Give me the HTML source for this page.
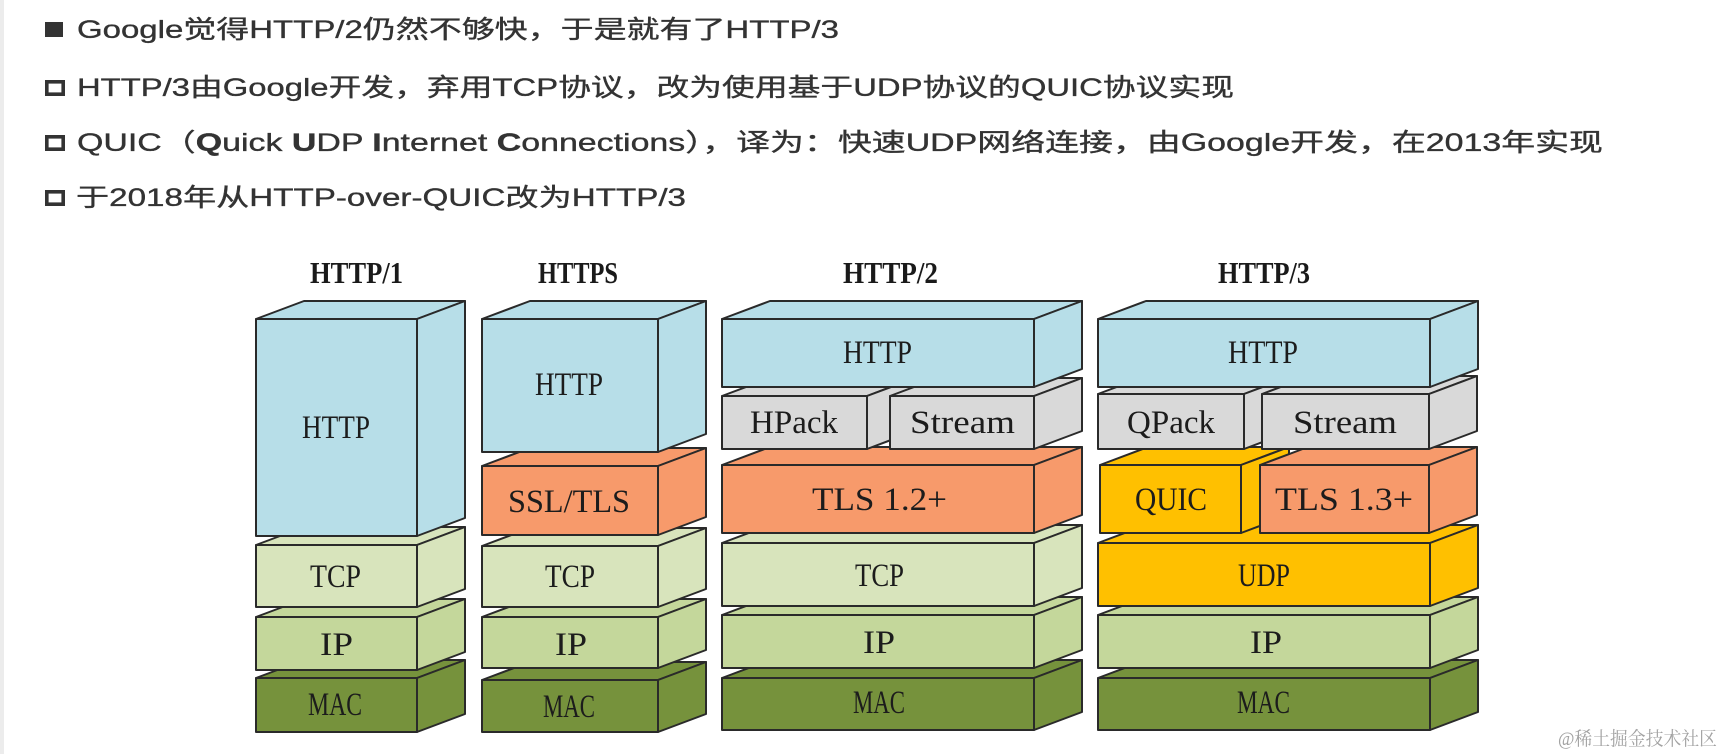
<!DOCTYPE html>
<html><head><meta charset="utf-8">
<style>
html,body{margin:0;padding:0;background:#fff;width:1724px;height:754px;overflow:hidden}
svg{display:block}
.t{font-family:"Liberation Sans","Noto Sans CJK SC",sans-serif;font-size:25px;fill:#333;stroke:#333;stroke-width:0.35px}
.h{font-family:"Liberation Serif",serif;font-size:31px;font-weight:bold;fill:#1a1a1a}
.l{font-family:"Liberation Serif",serif;font-size:33px;fill:#1c1c1c}
.b polygon,.b rect{stroke:#2a2a2a;stroke-width:2;stroke-linejoin:round}
</style></head><body>
<svg width="1724" height="754" viewBox="0 0 1724 754" xmlns="http://www.w3.org/2000/svg">
<rect x="0" y="0" width="1724" height="754" fill="#fff"/>
<rect x="0" y="0" width="4" height="754" fill="#ececec"/>

<!-- bullets -->
<rect x="45" y="22" width="18" height="15" fill="#333"/>
<rect x="46.8" y="81.8" width="16.4" height="12.4" fill="none" stroke="#333" stroke-width="3.6"/>
<rect x="46.8" y="136.8" width="16.4" height="12.4" fill="none" stroke="#333" stroke-width="3.6"/>
<rect x="46.8" y="191.8" width="16.4" height="12.4" fill="none" stroke="#333" stroke-width="3.6"/>

<text class="t" x="77" y="38" textLength="762" lengthAdjust="spacingAndGlyphs">Google觉得HTTP/2仍然不够快，于是就有了HTTP/3</text>
<text class="t" x="77" y="96" textLength="1157" lengthAdjust="spacingAndGlyphs">HTTP/3由Google开发，弃用TCP协议，改为使用基于UDP协议的QUIC协议实现</text>
<text class="t" x="77" y="151" textLength="1526" lengthAdjust="spacingAndGlyphs">QUIC（<tspan font-weight="bold">Q</tspan>uick <tspan font-weight="bold">U</tspan>DP <tspan font-weight="bold">I</tspan>nternet <tspan font-weight="bold">C</tspan>onnections），译为：快速UDP网络连接，由Google开发，在2013年实现</text>
<text class="t" x="76" y="206" textLength="610" lengthAdjust="spacingAndGlyphs">于2018年从HTTP-over-QUIC改为HTTP/3</text>

<!-- column titles -->
<text class="h" x="310" y="283" textLength="93" lengthAdjust="spacingAndGlyphs">HTTP/1</text>
<text class="h" x="538" y="283" textLength="80" lengthAdjust="spacingAndGlyphs">HTTPS</text>
<text class="h" x="843" y="283" textLength="95" lengthAdjust="spacingAndGlyphs">HTTP/2</text>
<text class="h" x="1218" y="283" textLength="92" lengthAdjust="spacingAndGlyphs">HTTP/3</text>

<!-- HTTP/1 column -->
<g class="b" fill="#76923c">
<polygon points="256,678 304,660 465,660 417,678"/><polygon points="417,678 465,660 465,714 417,732"/><rect x="256" y="678" width="161" height="54"/>
</g>
<g class="b" fill="#c4d79b">
<polygon points="256,617 304,599 465,599 417,617"/><polygon points="417,617 465,599 465,652 417,670"/><rect x="256" y="617" width="161" height="53"/>
</g>
<g class="b" fill="#d8e4bc">
<polygon points="256,545 304,527 465,527 417,545"/><polygon points="417,545 465,527 465,589 417,607"/><rect x="256" y="545" width="161" height="62"/>
</g>
<g class="b" fill="#b7dee8">
<polygon points="256,319 304,301 465,301 417,319"/><polygon points="417,319 465,301 465,518 417,536"/><rect x="256" y="319" width="161" height="217"/>
</g>
<text class="l" x="302" y="438" textLength="68" lengthAdjust="spacingAndGlyphs">HTTP</text>
<text class="l" x="310" y="587" textLength="51" lengthAdjust="spacingAndGlyphs">TCP</text>
<text class="l" x="320" y="655" textLength="33" lengthAdjust="spacingAndGlyphs">IP</text>
<text class="l" x="308" y="715" textLength="54" lengthAdjust="spacingAndGlyphs">MAC</text>

<!-- HTTPS column -->
<g class="b" fill="#76923c">
<polygon points="482,680 530,662 706,662 658,680"/><polygon points="658,680 706,662 706,714 658,732"/><rect x="482" y="680" width="176" height="52"/>
</g>
<g class="b" fill="#c4d79b">
<polygon points="482,617 530,599 706,599 658,617"/><polygon points="658,617 706,599 706,650 658,668"/><rect x="482" y="617" width="176" height="51"/>
</g>
<g class="b" fill="#d8e4bc">
<polygon points="482,546 530,528 706,528 658,546"/><polygon points="658,546 706,528 706,589 658,607"/><rect x="482" y="546" width="176" height="61"/>
</g>
<g class="b" fill="#f79a6b">
<polygon points="482,466 530,448 706,448 658,466"/><polygon points="658,466 706,448 706,517 658,535"/><rect x="482" y="466" width="176" height="69"/>
</g>
<g class="b" fill="#b7dee8">
<polygon points="482,319 530,301 706,301 658,319"/><polygon points="658,319 706,301 706,434 658,452"/><rect x="482" y="319" width="176" height="133"/>
</g>
<text class="l" x="535" y="395" textLength="68" lengthAdjust="spacingAndGlyphs">HTTP</text>
<text class="l" x="508" y="512" textLength="122" lengthAdjust="spacingAndGlyphs">SSL/TLS</text>
<text class="l" x="545" y="587" textLength="50" lengthAdjust="spacingAndGlyphs">TCP</text>
<text class="l" x="555" y="655" textLength="32" lengthAdjust="spacingAndGlyphs">IP</text>
<text class="l" x="543" y="717" textLength="52" lengthAdjust="spacingAndGlyphs">MAC</text>

<!-- HTTP/2 column -->
<g class="b" fill="#76923c">
<polygon points="722,678 770,660 1082,660 1034,678"/><polygon points="1034,678 1082,660 1082,712 1034,730"/><rect x="722" y="678" width="312" height="52"/>
</g>
<g class="b" fill="#c4d79b">
<polygon points="722,615 770,597 1082,597 1034,615"/><polygon points="1034,615 1082,597 1082,650 1034,668"/><rect x="722" y="615" width="312" height="53"/>
</g>
<g class="b" fill="#d8e4bc">
<polygon points="722,543 770,525 1082,525 1034,543"/><polygon points="1034,543 1082,525 1082,588 1034,606"/><rect x="722" y="543" width="312" height="63"/>
</g>
<g class="b" fill="#f79a6b">
<polygon points="722,465 770,447 1082,447 1034,465"/><polygon points="1034,465 1082,447 1082,515 1034,533"/><rect x="722" y="465" width="312" height="68"/>
</g>
<g class="b" fill="#d9d9d9">
<polygon points="722,396 770,378 915,378 867,396"/><polygon points="867,396 915,378 915,431 867,449"/><rect x="722" y="396" width="145" height="53"/>
</g>
<g class="b" fill="#d9d9d9">
<polygon points="890,396 938,378 1082,378 1034,396"/><polygon points="1034,396 1082,378 1082,431 1034,449"/><rect x="890" y="396" width="144" height="53"/>
</g>
<g class="b" fill="#b7dee8">
<polygon points="722,319 770,301 1082,301 1034,319"/><polygon points="1034,319 1082,301 1082,369 1034,387"/><rect x="722" y="319" width="312" height="68"/>
</g>
<text class="l" x="843" y="363" textLength="69" lengthAdjust="spacingAndGlyphs">HTTP</text>
<text class="l" x="750" y="433" textLength="88" lengthAdjust="spacingAndGlyphs">HPack</text>
<text class="l" x="910" y="433" textLength="105" lengthAdjust="spacingAndGlyphs">Stream</text>
<text class="l" x="812" y="510" textLength="135" lengthAdjust="spacingAndGlyphs">TLS 1.2+</text>
<text class="l" x="855" y="586" textLength="49" lengthAdjust="spacingAndGlyphs">TCP</text>
<text class="l" x="863" y="653" textLength="32" lengthAdjust="spacingAndGlyphs">IP</text>
<text class="l" x="853" y="713" textLength="52" lengthAdjust="spacingAndGlyphs">MAC</text>

<!-- HTTP/3 column -->
<g class="b" fill="#76923c">
<polygon points="1098,678 1146,660 1478,660 1430,678"/><polygon points="1430,678 1478,660 1478,712 1430,730"/><rect x="1098" y="678" width="332" height="52"/>
</g>
<g class="b" fill="#c4d79b">
<polygon points="1098,615 1146,597 1478,597 1430,615"/><polygon points="1430,615 1478,597 1478,650 1430,668"/><rect x="1098" y="615" width="332" height="53"/>
</g>
<g class="b" fill="#ffc000">
<polygon points="1098,543 1146,525 1478,525 1430,543"/><polygon points="1430,543 1478,525 1478,588 1430,606"/><rect x="1098" y="543" width="332" height="63"/>
</g>
<g class="b" fill="#ffc000">
<polygon points="1100,465 1148,447 1289,447 1241,465"/><polygon points="1241,465 1289,447 1289,515 1241,533"/><rect x="1100" y="465" width="141" height="68"/>
</g>
<g class="b" fill="#f79a6b">
<polygon points="1260,465 1308,447 1477,447 1429,465"/><polygon points="1429,465 1477,447 1477,515 1429,533"/><rect x="1260" y="465" width="169" height="68"/>
</g>
<g class="b" fill="#d9d9d9">
<polygon points="1098,394 1146,376 1292,376 1244,394"/><polygon points="1244,394 1292,376 1292,431 1244,449"/><rect x="1098" y="394" width="146" height="55"/>
</g>
<g class="b" fill="#d9d9d9">
<polygon points="1262,394 1310,376 1477,376 1429,394"/><polygon points="1429,394 1477,376 1477,431 1429,449"/><rect x="1262" y="394" width="167" height="55"/>
</g>
<g class="b" fill="#b7dee8">
<polygon points="1098,319 1146,301 1478,301 1430,319"/><polygon points="1430,319 1478,301 1478,369 1430,387"/><rect x="1098" y="319" width="332" height="68"/>
</g>
<text class="l" x="1228" y="363" textLength="70" lengthAdjust="spacingAndGlyphs">HTTP</text>
<text class="l" x="1127" y="433" textLength="88" lengthAdjust="spacingAndGlyphs">QPack</text>
<text class="l" x="1293" y="433" textLength="104" lengthAdjust="spacingAndGlyphs">Stream</text>
<text class="l" x="1135" y="510" textLength="72" lengthAdjust="spacingAndGlyphs">QUIC</text>
<text class="l" x="1275" y="510" textLength="138" lengthAdjust="spacingAndGlyphs">TLS 1.3+</text>
<text class="l" x="1238" y="586" textLength="52" lengthAdjust="spacingAndGlyphs">UDP</text>
<text class="l" x="1250" y="653" textLength="32" lengthAdjust="spacingAndGlyphs">IP</text>
<text class="l" x="1237" y="713" textLength="53" lengthAdjust="spacingAndGlyphs">MAC</text>

<!-- watermark -->
<text x="1558" y="745" font-family="'Liberation Serif','Noto Serif CJK SC',serif" font-size="19" fill="#a3a3a3" textLength="159" lengthAdjust="spacingAndGlyphs">@稀土掘金技术社区</text>
</svg>
</body></html>
